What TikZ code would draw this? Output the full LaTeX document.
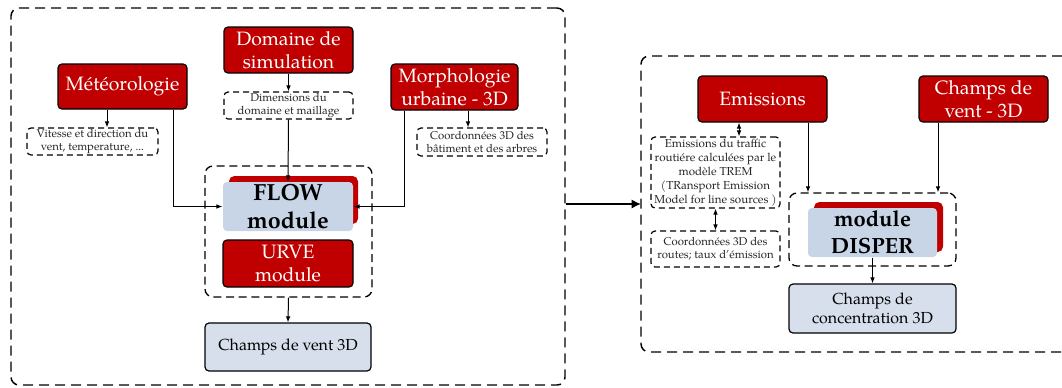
\documentclass[tikz,border=0pt]{standalone}
\usepackage{fontspec}
\setmainfont{TeX Gyre Pagella}
\usetikzlibrary{arrows.meta}
\definecolor{myred}{HTML}{C00000}
\definecolor{myblue}{HTML}{C8D5E6}
\definecolor{lightblue}{HTML}{D6DFEB}
\begin{document}
\begin{tikzpicture}[x=0.75pt,y=-0.75pt,
  sz/.style 2 args={minimum width=#1*0.75pt, minimum height=#2*0.75pt},
  box/.style={rounded corners=3pt, inner sep=0pt, align=center, line width=0.9pt},
  redbox/.style={box, draw=black, fill=myred, text=white, font=\fontsize{14.5}{17.5}\selectfont},
  note/.style={box, draw=black, dash pattern=on 4.5pt off 3pt, text=black!85, font=\fontsize{8.5}{10}\selectfont},
  grp/.style={rounded corners=6pt, draw=black, dash pattern=on 6pt off 3.5pt, line width=1pt, inner sep=0pt},
  outer/.style={rounded corners=6pt, draw=black, dash pattern=on 7.5pt off 4.5pt, line width=1.1pt},
  modbox/.style={box, draw=none, fill=myblue, font=\fontsize{17.5}{21}\selectfont\bfseries},
  shadowbox/.style={box, draw=none, fill=myred, rounded corners=4pt},
  resbox/.style={box, draw=black, fill=lightblue, font=\fontsize{12}{14.5}\selectfont},
  arr/.style={line width=0.75pt, -{Latex[length=4.5pt,width=3.5pt]}},
  darr/.style={line width=0.75pt, {Latex[length=4.5pt,width=3.5pt]}-{Latex[length=4.5pt,width=3.5pt]}},
  thickarr/.style={line width=2.2pt, -{Latex[length=7pt,width=7pt]}}
]
\useasboundingbox (0,0) rectangle (1062,387);

% ---------------- left part ----------------
\node[outer, sz={554}{377}] (leftbox) at (288,196.5) {};

\node[redbox, sz={129}{46}] (dom) at (288.5,50) {Domaine de\\simulation};
\node[redbox, sz={129}{45}] (met) at (122.5,86.5) {Météorologie};
\node[redbox, sz={127}{46}] (mor) at (454.5,87) {Morphologie\\urbaine - 3D};

\node[note, sz={129}{27}] (dim) at (288.5,105.5) {Dimensions du\\domaine et maillage};
\node[note, sz={131}{27}] (vit) at (92.5,141.5) {Vitesse et direction du\\vent, temperature, ...};
\node[note, sz={130}{28}] (coo) at (482,142) {Coordonnées 3D des\\bâtiment et des arbres};

\node[grp, sz={167}{131}] (flowgrp) at (288.5,231.5) {};
\node[shadowbox, sz={129}{48}] (flowsh) at (293.5,200) {};
\node[modbox, sz={130}{49}] (flow) at (288,206.5) {FLOW\\module};
\node[redbox, sz={130}{47}] (urve) at (288,263.5) {URVE\\module};

\node[resbox, sz={166}{48}] (cv3d) at (288,347) {Champs de vent 3D};

\draw[arr] (met.south -| 107,0) -- (vit.north -| 107,0);
\draw[arr] (met.south -| 173,0) |- (flow.west);
\draw[arr] (mor.south -| 404,0) |- (flow.east);
\draw[arr] (mor.south -| 468,0) -- (coo.north -| 468,0);
\draw[arr] (dom.south) -- (dim.north);
\draw[arr] (dim.south) -- (flow.north);
\draw[arr] (flowgrp.south) -- (cv3d.north);

% ---------------- right part ----------------
\draw[outer] (1062,56) -- (641,56) -- (641,352) -- (1062,352);
\coordinate (rbw) at (641,204);

\node[redbox, sz={129}{46}] (emi) at (762.5,99) {Emissions};
\node[redbox, sz={129}{46}] (cvr) at (983.5,99) {Champs de\\vent - 3D};

\node[note, sz={129}{71}, font=\fontsize{8.7}{10.5}\selectfont] (traf) at (715.5,172.5) {Emissions du traffic\\routiére calculées par le\\modèle TREM\\(TRansport Emission\\Model for line sources )};
\node[note, sz={129}{36}] (route) at (715.5,249) {Coordonnées 3D des\\routes; taux d’émission};

\node[grp, sz={167}{73}] (dispgrp) at (872.5,229.5) {};
\node[shadowbox, sz={129}{50}] (dispsh) at (878.5,227) {};
\node[modbox, sz={129}{49}, font=\fontsize{16.5}{20.5}\selectfont\bfseries] (disp) at (872.5,232.5) {module\\DISPER};

\node[resbox, sz={167}{49}, font=\fontsize{12}{13.8}\selectfont] (conc) at (872.5,308.5) {Champs de\\concentration 3D};

\draw[darr] (emi.south -| 739,0) -- (traf.north -| 739,0);
\draw[darr] (traf.south) -- (route.north);
\draw[arr] (emi.south -| 808,0) -- (dispgrp.north -| 808,0);
\draw[arr] (cvr.south -| 938,0) -- (dispgrp.north -| 938,0);
\draw[arr] (disp.south) -- (conc.north);

% ---------------- link ----------------
\draw[thickarr] (leftbox.east |- rbw) -- (rbw);
\end{tikzpicture}
\end{document}
